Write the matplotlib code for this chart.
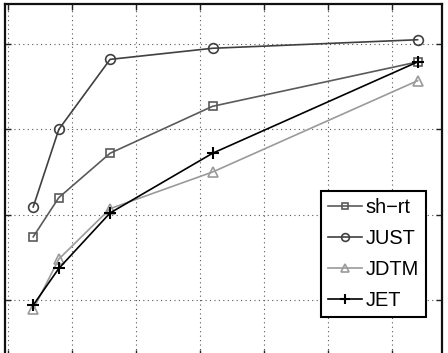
import matplotlib
matplotlib.use('Agg')
import matplotlib.pyplot as plt

# --- data (x doubles per step) ---
x_vals = [1, 2, 4, 8, 16]
sh_rt = [0.574, 0.620, 0.672, 0.727, 0.779]
just = [0.609, 0.700, 0.782, 0.795, 0.805]
jdtm = [0.489, 0.548, 0.607, 0.650, 0.757]
jet = [0.494, 0.537, 0.602, 0.672, 0.779]

x_ticks = [0, 2.5, 5, 7.5, 10, 12.5, 15]
y_ticks = [0.5, 0.6, 0.7, 0.8]

plt.rcParams['font.family'] = ['Liberation Sans', 'DejaVu Sans']

W, H = 448, 353
fig = plt.figure(figsize=(W / 100, H / 100), dpi=100)
# axes fill the picture, bottom edge sits just below the crop
left, right, top, bottom = 4.5, 441.7, 4.0, 356.0
ax = fig.add_axes([left / W, 1 - bottom / H, (right - left) / W, (bottom - top) / H])

ax.plot(x_vals, sh_rt, color='#5a5a5a', lw=1.2, marker='s', ms=5.5,
        mfc='none', mec='#5a5a5a', mew=1.2, label='sh\u2212rt')
ax.plot(x_vals, just, color='#404040', lw=1.2, marker='o', ms=7,
        mfc='none', mec='#404040', mew=1.2, label='JUST')
ax.plot(x_vals, jdtm, color='#9a9a9a', lw=1.2, marker='^', ms=7,
        mfc='none', mec='#9a9a9a', mew=1.2, label='JDTM')
ax.plot(x_vals, jet, color='black', lw=1.2, marker='+', ms=9,
        mew=1.5, label='JET')

ax.set_xlim(-0.12, 16.94)
ax.set_ylim(0.5 + (300 - bottom) / 853.3, 0.5 + (300 - top) / 853.3)
ax.set_xticks(x_ticks)
ax.set_yticks(y_ticks)
ax.set_xticklabels([])
ax.set_yticklabels([])
ax.tick_params(direction='in', length=4, width=1, top=True, right=True, color='#222222')
ax.grid(True, linestyle=(0, (1, 3)), color='#555555', lw=0.8)
for s in ax.spines.values():
    s.set_linewidth(1.6)
    s.set_color('#111111')

leg = ax.legend(loc='upper right', bbox_to_anchor=(426 / W, 1 - 191 / H),
                bbox_transform=fig.transFigure, borderaxespad=0,
                fontsize=14.4, handlelength=1.7, handletextpad=0.2,
                labelspacing=0.6, borderpad=0.35, markerscale=0.8,
                fancybox=False, framealpha=1, edgecolor='black')
leg.get_frame().set_linewidth(1.5)

fig.savefig('out.png', dpi=100)
